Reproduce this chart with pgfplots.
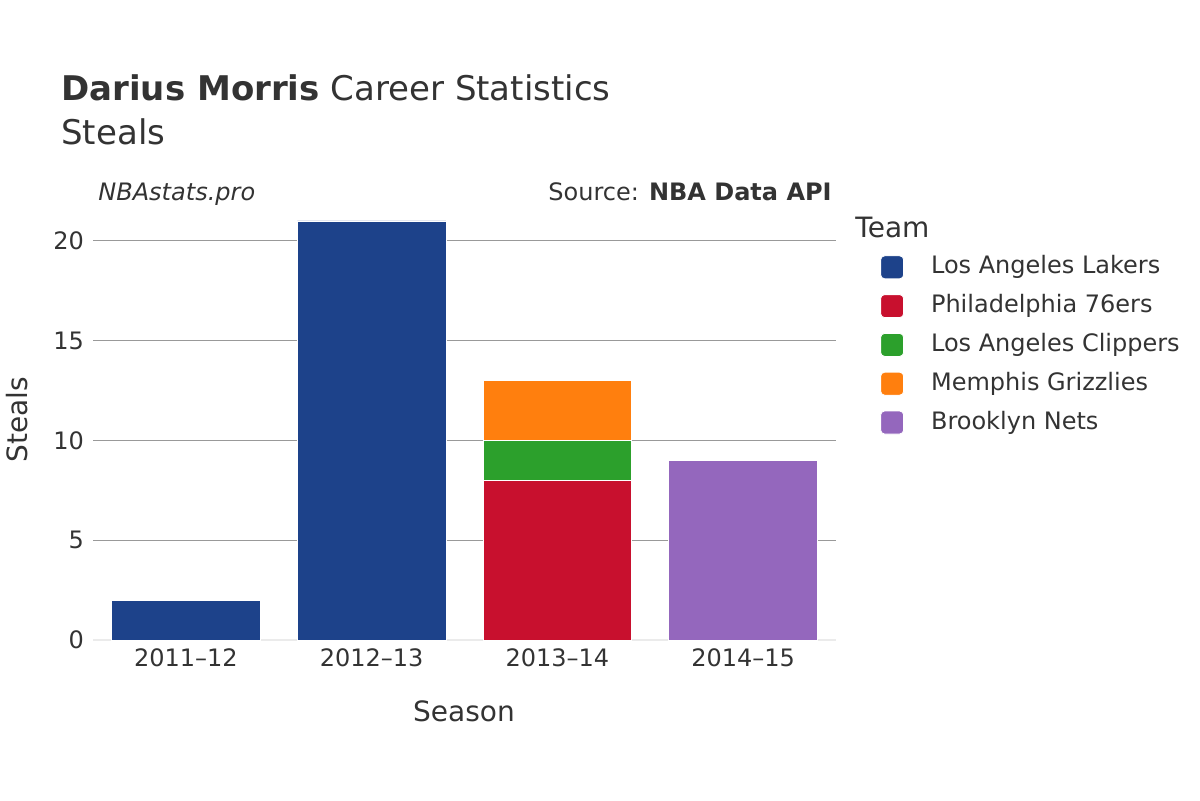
\documentclass[border=0pt]{standalone}
\usepackage{pgfplots}
\pgfplotsset{compat=1.18}
\usepackage{fontspec}
\setmainfont{DejaVu Sans}

\definecolor{txt}{HTML}{333333}
\definecolor{lakers}{HTML}{1D428A}
\definecolor{sixers}{HTML}{C8102E}
\definecolor{clippers}{HTML}{2CA02C}
\definecolor{grizz}{HTML}{FF7F0E}
\definecolor{nets}{HTML}{9467BD}
\definecolor{zeroline}{HTML}{EBEBEB}

\begin{document}
\begin{tikzpicture}
% page 1200 x 800 px, 1px = 0.5pt
\path (0pt,0pt) rectangle (600pt,400pt);

\begin{axis}[
    at={(46.5pt,80pt)}, anchor=south west,
    scale only axis,
    width=371.5pt, height=219.5pt,
    ybar stacked, bar width=0.8,
    xmin=-0.5, xmax=3.5,
    ymin=0, ymax=22,
    xtick=data,
    xticklabels={2011–12,2012–13,2013–14,2014–15},
    ytick={0,5,10,15,20},
    ymajorgrids,
    grid style={gray!80, line width=0.5pt},
    axis line style={draw=none},
    tick style={draw=none},
    ticklabel style={font=\fontsize{12}{14}\selectfont, text=txt},
    /pgf/number format/assume math mode=true,
    xticklabel style={yshift=-1pt},
    yticklabel style={xshift=-1pt},
    legend style={at={(1.059,0.877)}, anchor=north west, draw=none,
        fill=none, inner sep=0pt, row sep=7.5pt, column sep=13.5pt,
        font=\fontsize{12}{14}\selectfont, text=txt,
        nodes={inner sep=0pt, text height=9pt, text depth=2.5pt}},
    legend cell align=left,
    legend image code/.code={\fill[#1, rounded corners=2pt] (0pt,-5.75pt) rectangle (11.5pt,5.75pt);},
]
\addplot[fill=lakers, draw=white, line width=0.4pt] coordinates {(0,2) (1,21) (2,0) (3,0)};
\addlegendentry{Los Angeles Lakers}
\addplot[fill=sixers, draw=white, line width=0.4pt] coordinates {(0,0) (1,0) (2,8) (3,0)};
\addlegendentry{Philadelphia 76ers}
\addplot[fill=clippers, draw=white, line width=0.4pt] coordinates {(0,0) (1,0) (2,2) (3,0)};
\addlegendentry{Los Angeles Clippers}
\addplot[fill=grizz, draw=white, line width=0.4pt] coordinates {(0,0) (1,0) (2,3) (3,0)};
\addlegendentry{Memphis Grizzlies}
\addplot[fill=nets, draw=white, line width=0.4pt] coordinates {(0,0) (1,0) (2,0) (3,9)};
\addlegendentry{Brooklyn Nets}
\draw[zeroline, line width=1.5pt] (axis cs:-0.5,0) -- (axis cs:3.5,0);
\end{axis}

% titles and notes
\begin{scope}[every node/.style={inner sep=0pt, text=txt}]
\node[anchor=base west, font=\fontsize{17}{20}\selectfont] at (30.5pt,349.5pt)
    {\textbf{Darius Morris} Career Statistics};
\node[anchor=base west, font=\fontsize{17}{20}\selectfont] at (30.5pt,327.5pt) {Steals};
\node[anchor=base west, font=\fontsize{12}{14}\selectfont\itshape] at (49pt,300pt) {NBAstats.pro};
\node[anchor=base east, font=\fontsize{12}{14}\selectfont] at (416pt,300pt)
    {Source: \textbf{NBA Data API}};
\node[font=\fontsize{14}{16}\selectfont, rotate=90] at (8.5pt,190pt) {Steals};
\node[font=\fontsize{14}{16}\selectfont] at (232pt,44.5pt) {Season};
\node[anchor=west, font=\fontsize{14}{16}\selectfont] at (427.5pt,286.5pt) {Team};
\end{scope}
\end{tikzpicture}
\end{document}
